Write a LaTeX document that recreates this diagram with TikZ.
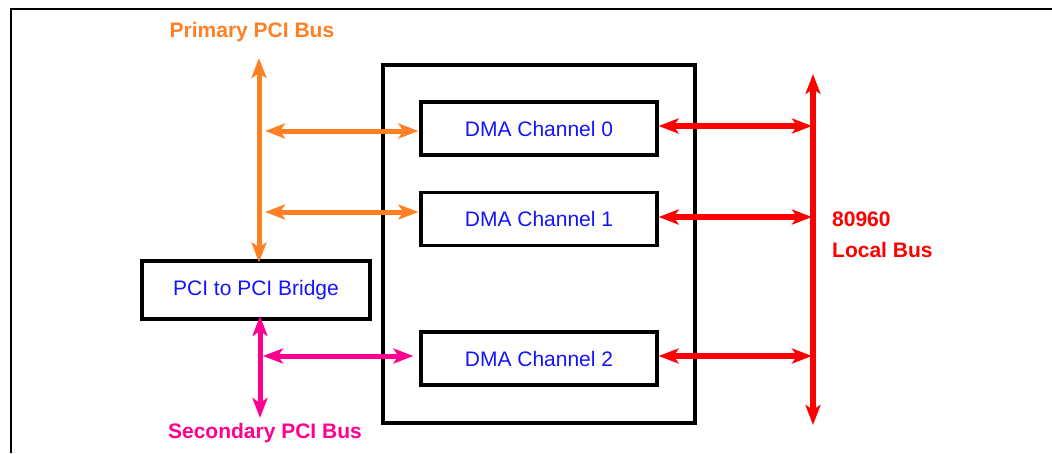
\documentclass[tikz,border=0pt]{standalone}
\usepackage{fontspec}
\setmainfont{Liberation Sans}
\usetikzlibrary{arrows.meta}
\definecolor{busorange}{RGB}{255,128,36}
\definecolor{busmagenta}{RGB}{255,0,144}
\definecolor{busred}{RGB}{255,0,0}
\definecolor{txtblue}{RGB}{20,20,255}
\tikzset{
  blk/.style={draw=black,line width=3.2pt,inner sep=0pt,text=txtblue,
    font=\fontsize{21}{25}\selectfont},
  dmabox/.style={blk,minimum width=236pt,minimum height=53pt},
  buslabel/.style={font=\bfseries\fontsize{21}{25}\selectfont,inner sep=0pt},
  bi/.style={arrows={Stealth[length=20pt,width=15pt,inset=5pt]-Stealth[length=20pt,width=15pt,inset=5pt]}},
  orangebus/.style={bi,draw=busorange,fill=busorange,line width=5pt},
  magentabus/.style={bi,draw=busmagenta,fill=busmagenta,line width=5pt},
  redbus/.style={bi,draw=busred,fill=busred,line width=6pt}
}
\begin{document}
\begin{tikzpicture}[x=1pt,y=-1pt]
\useasboundingbox (0,0) rectangle (1052,453);
% frame
\draw[line width=2pt] (11,453) -- (11,9) -- (1052,9);
% outer unit box
\node[draw=black,line width=3.2pt,minimum width=312pt,minimum height=358pt,inner sep=0pt] (unit) at (539,244) {};
% DMA channels
\node[dmabox] (dma0) at (539,128.5) {DMA Channel 0};
\node[dmabox] (dma1) at (539,219) {DMA Channel 1};
\node[dmabox] (dma2) at (539,358.5) {DMA Channel 2};
% bridge
\node[blk,minimum width=228pt,minimum height=58pt] (bridge) at (256,290) {PCI to PCI Bridge};
% labels
\node[buslabel,text=busorange,anchor=base] (plabel) at (252,37) {Primary PCI Bus};
\node[buslabel,text=busmagenta,anchor=base] (slabel) at (265,438) {Secondary PCI Bus};
\node[buslabel,text=busred,anchor=base west] (llabel1) at (832,226) {80960};
\node[buslabel,text=busred,anchor=base west] (llabel2) at (832,257) {Local Bus};
% bus coordinates
\coordinate (ptop) at (259,58);
\coordinate (o0) at (265,131);
\coordinate (o1) at (265,212);
\coordinate (stop) at (260,316);
\coordinate (sbot) at (260,418);
\coordinate (m2) at (263,356);
\coordinate (rtop) at (813,74);
\coordinate (rbot) at (813,425);
\coordinate (r0) at (812,126);
\coordinate (r1) at (812,217);
\coordinate (r2) at (812,356);
% primary PCI bus
\draw[orangebus] (ptop) -- ([yshift=-3pt]ptop |- bridge.north);
\draw[orangebus] (o0) -- ([xshift=-1pt]o0 -| dma0.west);
\draw[orangebus] (o1) -- ([xshift=-1pt]o1 -| dma1.west);
% secondary PCI bus
\draw[magentabus] (stop) -- (sbot);
\draw[magentabus] (m2) -- ([xshift=-6pt]m2 -| dma2.west);
% local bus
\draw[redbus] (rtop) -- (rbot);
\draw[redbus] (r0 -| dma0.east) -- (r0);
\draw[redbus] (r1 -| dma1.east) -- (r1);
\draw[redbus] (r2 -| dma2.east) -- (r2);
\end{tikzpicture}
\end{document}
